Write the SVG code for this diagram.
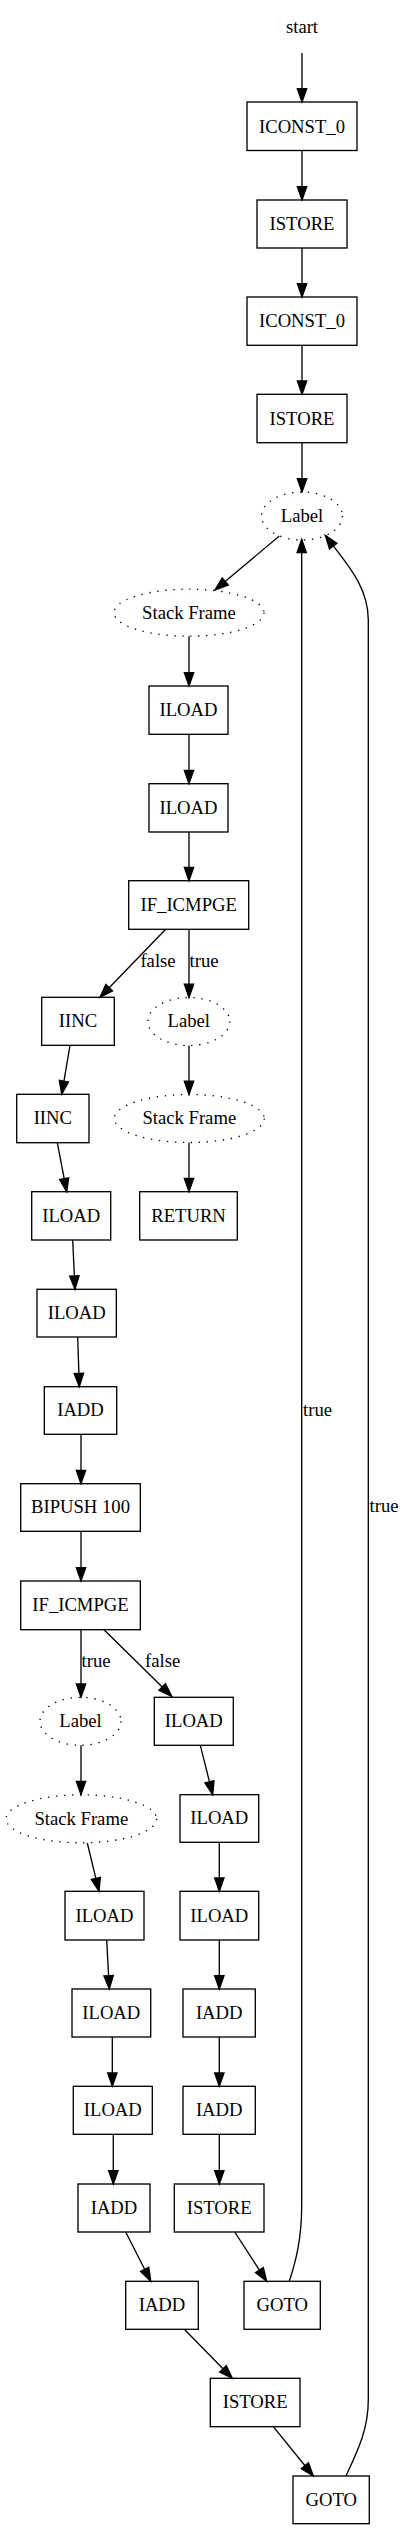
<svg xmlns="http://www.w3.org/2000/svg" width="403" height="2529" viewBox="0 0 403 2529">
<style>
text{font-family:"Liberation Serif","Times New Roman",serif;font-size:18.67px;fill:#000}
.n text{text-anchor:middle}
.box{fill:none;stroke:#000;stroke-width:1.33}
.dot{fill:none;stroke:#000;stroke-width:1.33;stroke-dasharray:1.33,6.67}
.e path{fill:none;stroke:#000;stroke-width:1.33;marker-end:url(#arr)}
</style>
<defs>
<marker id="arr" markerUnits="userSpaceOnUse" markerWidth="14" markerHeight="10" refX="13.33" refY="4.67" orient="auto" overflow="visible">
<path d="M0,0 L13.33,4.67 L0,9.33 z" fill="#000" stroke="#000" stroke-width="1.33"/>
</marker>
</defs>
<rect width="403" height="2529" fill="#fff"/>
<g class="n">
<g id="start"><text x="302" y="33">start</text></g>
<g id="iconst0a"><rect class="box" x="247" y="102" width="110" height="48.5"/><text x="302" y="132.5">ICONST_0</text></g>
<g id="istore1"><rect class="box" x="257" y="200" width="90" height="48"/><text x="302" y="230">ISTORE</text></g>
<g id="iconst0b"><rect class="box" x="247" y="297" width="110" height="48.3"/><text x="302" y="327.2">ICONST_0</text></g>
<g id="istore2"><rect class="box" x="257" y="394.3" width="90" height="48.4"/><text x="302" y="424.5">ISTORE</text></g>
<g id="label1"><ellipse class="dot" cx="302" cy="516" rx="40.5" ry="24"/><text x="302" y="522">Label</text></g>
<g id="sf1"><ellipse class="dot" cx="189" cy="612.7" rx="75" ry="23.5"/><text x="189" y="618.5">Stack Frame</text></g>
<g id="iload1"><rect class="box" x="149" y="686" width="79" height="48.3"/><text x="188.5" y="716">ILOAD</text></g>
<g id="iload2"><rect class="box" x="149" y="783.7" width="79" height="48.3"/><text x="188.5" y="813.7">ILOAD</text></g>
<g id="ificmpge1"><rect class="box" x="128.7" y="880.7" width="120" height="48.6"/><text x="188.7" y="910.8">IF_ICMPGE</text></g>
<g id="iinc1"><rect class="box" x="41.7" y="997.3" width="72.6" height="48"/><text x="78" y="1027">IINC</text></g>
<g id="label2"><ellipse class="dot" cx="188.8" cy="1021.5" rx="41" ry="24"/><text x="188.8" y="1027.3">Label</text></g>
<g id="iinc2"><rect class="box" x="16.7" y="1094.3" width="72.3" height="48.4"/><text x="52.8" y="1124.3">IINC</text></g>
<g id="sf2"><ellipse class="dot" cx="189.3" cy="1118.5" rx="75" ry="24"/><text x="189.3" y="1124.3">Stack Frame</text></g>
<g id="return"><rect class="box" x="139.7" y="1191.7" width="97.6" height="48.3"/><text x="188.5" y="1221.6">RETURN</text></g>
<g id="iload3"><rect class="box" x="31.7" y="1191.7" width="79" height="48.3"/><text x="71.2" y="1221.6">ILOAD</text></g>
<g id="iload4"><rect class="box" x="37" y="1289.3" width="79.3" height="47.7"/><text x="76.7" y="1319">ILOAD</text></g>
<g id="iadd1"><rect class="box" x="44.3" y="1386.7" width="72.4" height="47.6"/><text x="80.5" y="1416.3">IADD</text></g>
<g id="bipush"><rect class="box" x="20.7" y="1483.7" width="119.6" height="47.6"/><text x="80.5" y="1513.3">BIPUSH 100</text></g>
<g id="ificmpge2"><rect class="box" x="20.7" y="1581" width="119.6" height="48.7"/><text x="80.5" y="1611.1">IF_ICMPGE</text></g>
<g id="label3"><ellipse class="dot" cx="80.5" cy="1721.3" rx="40.5" ry="24"/><text x="80.5" y="1727.1">Label</text></g>
<g id="iload5"><rect class="box" x="154.3" y="1697.3" width="79" height="48"/><text x="193.8" y="1727.1">ILOAD</text></g>
<g id="sf3"><ellipse class="dot" cx="81.3" cy="1818.8" rx="75.3" ry="24"/><text x="81.3" y="1824.6">Stack Frame</text></g>
<g id="iload6"><rect class="box" x="180" y="1794.7" width="78.7" height="47.6"/><text x="219.3" y="1824.3">ILOAD</text></g>
<g id="iload7"><rect class="box" x="65" y="1891.3" width="79" height="48.7"/><text x="104.5" y="1921.5">ILOAD</text></g>
<g id="iload8"><rect class="box" x="180" y="1891.3" width="78.7" height="48.7"/><text x="219.3" y="1921.5">ILOAD</text></g>
<g id="iload9"><rect class="box" x="72" y="1989" width="78.7" height="48"/><text x="111.3" y="2018.8">ILOAD</text></g>
<g id="iadd2"><rect class="box" x="183" y="1989" width="72.3" height="48"/><text x="219.2" y="2018.8">IADD</text></g>
<g id="iload10"><rect class="box" x="73.3" y="2086.3" width="79" height="48"/><text x="112.8" y="2116.1">ILOAD</text></g>
<g id="iadd3"><rect class="box" x="183" y="2086.3" width="72.3" height="48"/><text x="219.2" y="2116.1">IADD</text></g>
<g id="iadd4"><rect class="box" x="78" y="2184" width="72" height="48"/><text x="114" y="2213.8">IADD</text></g>
<g id="istore3"><rect class="box" x="174.3" y="2184" width="89.7" height="48"/><text x="219.2" y="2213.8">ISTORE</text></g>
<g id="iadd5"><rect class="box" x="125.7" y="2281.3" width="72.6" height="48"/><text x="162" y="2311.1">IADD</text></g>
<g id="goto1"><rect class="box" x="244" y="2281.3" width="76.3" height="48"/><text x="282.2" y="2311.1">GOTO</text></g>
<g id="istore4"><rect class="box" x="210.3" y="2378.3" width="89.7" height="48.4"/><text x="255.2" y="2408.3">ISTORE</text></g>
<g id="goto2"><rect class="box" x="293" y="2476" width="76.3" height="47.7"/><text x="331.2" y="2505.8">GOTO</text></g>
</g>
<g id="edges" class="e">
<path d="M302,53 L302,102"/>
<path d="M302,150.5 L302,200"/>
<path d="M302,248 L302,297"/>
<path d="M302,345.3 L302,394.3"/>
<path d="M302,442.7 L302,492"/>
<path d="M279.3,536 L215,590"/>
<path d="M189,636.2 L189,686"/>
<path d="M189,734.3 L189,783.7"/>
<path d="M189,832 L189,880.7"/>
<path d="M165.7,929.3 L100,997.3"/>
<path d="M189,929.3 L189,997.5"/>
<path d="M70,1045.3 L61.7,1094.3"/>
<path d="M189,1045.5 L189,1094.5"/>
<path d="M189,1142.5 L189,1191.7"/>
<path d="M57.3,1142.7 L66.7,1191.7"/>
<path d="M72.7,1240 L75,1289.3"/>
<path d="M77.7,1337 L79.3,1386.7"/>
<path d="M81,1434.3 L81,1483.7"/>
<path d="M81,1531.3 L81,1581"/>
<path d="M81,1629.7 L81,1697.3"/>
<path d="M104,1629.7 L171.7,1696.3"/>
<path d="M81,1745.3 L81,1794.7"/>
<path d="M200.3,1745.3 L212.7,1794.7"/>
<path d="M87.3,1843 L99,1891.3"/>
<path d="M219.3,1842.3 L219.3,1891.3"/>
<path d="M106.7,1940 L109.3,1989"/>
<path d="M219.3,1940 L219.3,1989"/>
<path d="M112.3,2037 L112.3,2086.3"/>
<path d="M219.3,2037 L219.3,2086.3"/>
<path d="M113.3,2134.3 L113.3,2184"/>
<path d="M219.3,2134.3 L219.3,2184"/>
<path d="M125.7,2232 L150.7,2281.3"/>
<path d="M234.7,2232 L266.7,2281.3"/>
<path d="M289.3,2281.3 C295.5,2262 301.7,2240 301.7,2205 L301.7,539.3"/>
<path d="M184.3,2329.3 L232.3,2378.3"/>
<path d="M273.3,2426.7 L313.3,2476"/>
<path d="M346,2476 C357,2452 368.3,2430 368.3,2400 L368.3,620 C368.3,585 345,562 325.3,535.3"/>
<text x="158" y="967" text-anchor="middle">false</text>
<text x="189.5" y="967">true</text>
<text x="81.5" y="1667">true</text>
<text x="145" y="1667">false</text>
<text x="303" y="1416">true</text>
<text x="369.5" y="1512">true</text>
</g>
</svg>
